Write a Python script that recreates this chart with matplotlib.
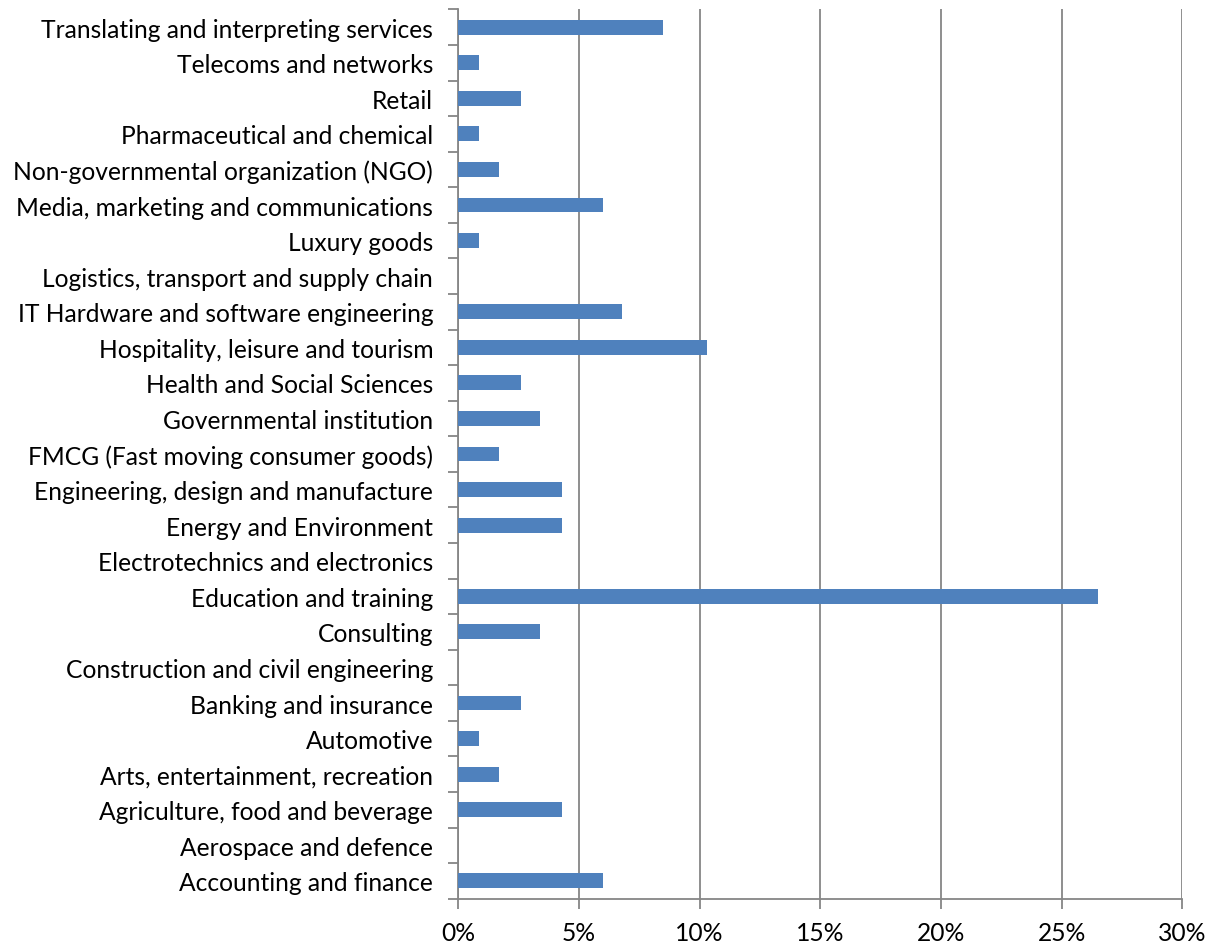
import matplotlib
matplotlib.use("Agg")
import matplotlib.pyplot as plt
from matplotlib.ticker import FuncFormatter, FixedLocator

categories = [
    "Accounting and finance",
    "Aerospace and defence",
    "Agriculture, food and beverage",
    "Arts, entertainment, recreation",
    "Automotive",
    "Banking and insurance",
    "Construction and civil engineering",
    "Consulting",
    "Education and training",
    "Electrotechnics and electronics",
    "Energy and Environment",
    "Engineering, design and manufacture",
    "FMCG (Fast moving consumer goods)",
    "Governmental institution",
    "Health and Social Sciences",
    "Hospitality, leisure and tourism",
    "IT Hardware and software engineering",
    "Logistics, transport and supply chain",
    "Luxury goods",
    "Media, marketing and communications",
    "Non-governmental organization (NGO)",
    "Pharmaceutical and chemical",
    "Retail",
    "Telecoms and networks",
    "Translating and interpreting services",
]
shares = [6.0, 0, 4.3, 1.7, 0.85, 2.6, 0, 3.4, 26.5, 0, 4.3, 4.3, 1.7, 3.4, 2.6,
          10.3, 6.8, 0, 0.85, 6.0, 1.7, 0.85, 2.6, 0.85, 8.5]
xticks = [0, 5, 10, 15, 20, 25, 30]

plt.rcParams['font.family'] = ['Lato', 'DejaVu Sans']

fig = plt.figure(figsize=(12.09, 9.45), dpi=100)
ax = fig.add_axes([0.379, 0.048, 0.599, 0.941])

gray = "#868686"
pos = list(range(len(categories)))
ax.barh(pos, shares, height=0.42, color="#4F81BD", zorder=3)

ax.set_xlim(0, 30)
ax.set_ylim(-0.5, len(categories) - 0.5)
ax.set_xticks(xticks)
ax.xaxis.set_major_formatter(FuncFormatter(lambda v, p: "%d%%" % v))
ax.set_yticks(pos)
ax.set_yticklabels(categories)
ax.yaxis.set_minor_locator(FixedLocator([i - 0.5 for i in range(len(categories) + 1)]))

ax.grid(axis="x", color=gray, linewidth=1.3, zorder=0)
for side in ["top", "right"]:
    ax.spines[side].set_visible(False)
for side in ["left", "bottom"]:
    ax.spines[side].set_color(gray)
    ax.spines[side].set_linewidth(1.3)

ax.tick_params(axis="y", which="major", length=0, labelsize=17.7, pad=18)
ax.tick_params(axis="y", which="minor", length=7, color=gray, width=1.3)
ax.tick_params(axis="x", length=7, color=gray, width=1.3, labelsize=17.7, pad=9)

fig.savefig("out.png", dpi=100)
